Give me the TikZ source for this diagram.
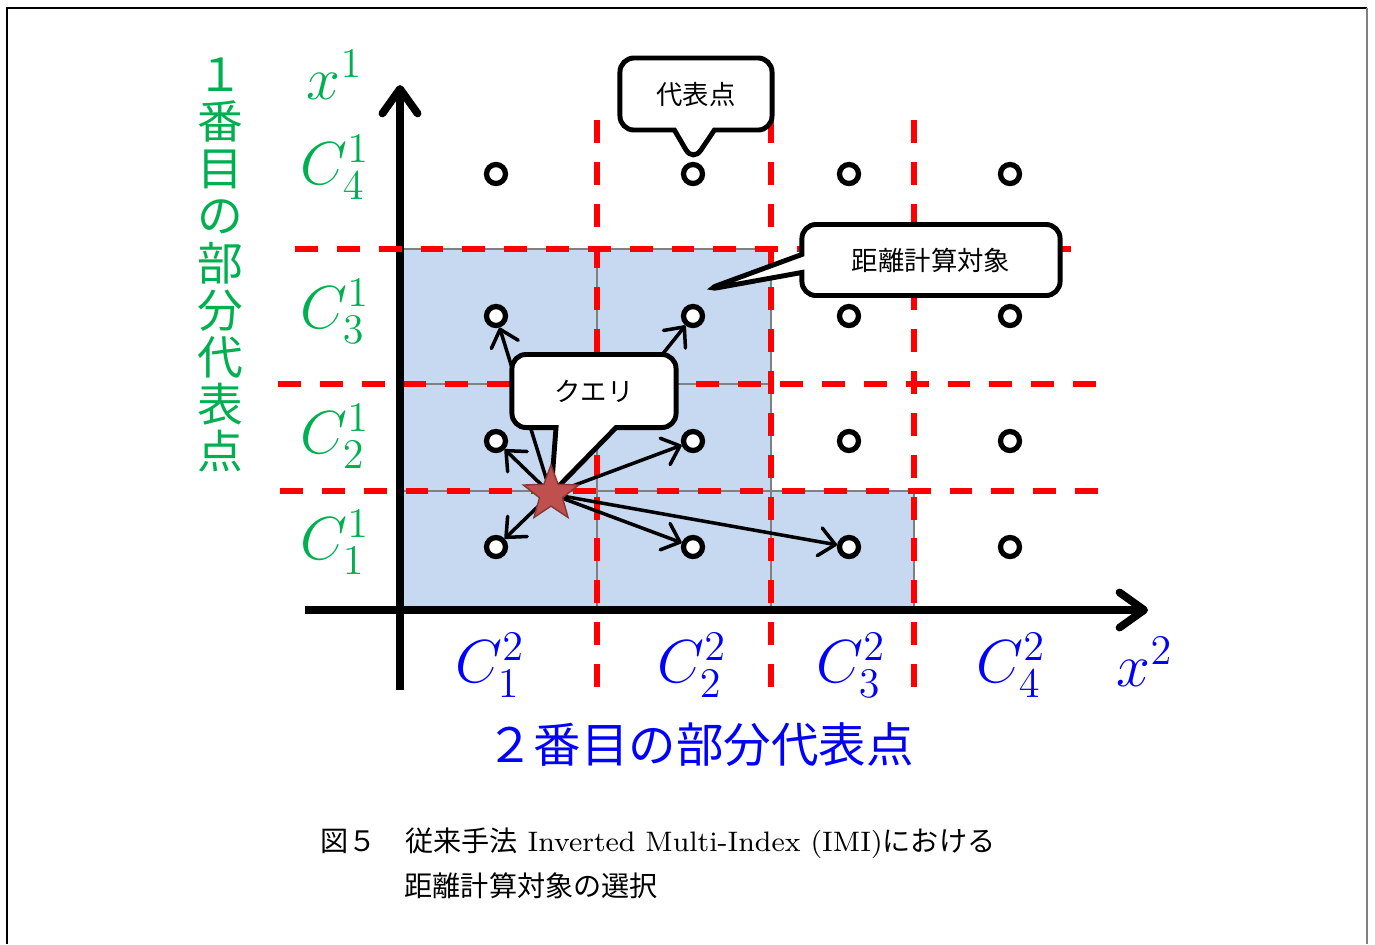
\documentclass[tikz,border=0pt]{standalone}
\usepackage{fontspec}
\newfontfamily\cjk{Noto Sans CJK JP}
\usepackage{xcolor}
\usetikzlibrary{shapes.geometric, shapes.callouts, arrows.meta}
\definecolor{cellblue}{HTML}{C6D9F1}
\definecolor{axgreen}{HTML}{00B050}
\definecolor{axblue}{HTML}{0000FF}
\definecolor{starred}{HTML}{C0504D}

\begin{document}
\begin{tikzpicture}[
    x=0.01cm, y=-0.01cm,
    cell/.style   = {fill=cellblue, draw=gray, line width=0.4pt},
    cut/.style    = {red, line width=1.7pt, dash pattern=on 6.5pt off 5.4pt},
    axis/.style   = {line width=2.2pt, -{Straight Barb[length=7pt,width=10pt,round]}},
    pt/.style     = {circle, draw, fill=white, line width=1.5pt,
                     minimum size=0.19cm, inner sep=0pt},
    ptr/.style    = {line width=1pt, -{Straight Barb[length=4.5pt,width=8pt,round]}},
    bubble/.style = {rectangle callout, draw, fill=white, line width=1.4pt,
                     rounded corners=4pt, font=\cjk\fontsize{7.5}{9}\selectfont},
    lab1/.style   = {text=axgreen, font=\fontsize{17}{20}\selectfont},
    lab2/.style   = {text=axblue, font=\fontsize{17}{20}\selectfont},
  ]
  \useasboundingbox (0,0) rectangle (1375,944);
  \draw[line width=0.6pt] (7,944) -- (7,8) -- (1367,8);
  \draw[gray, line width=0.6pt] (1367,8) -- (1367,944);

  % cells to compare
  \foreach \xa/\xb in {400/597, 597/771}
    \foreach \ya/\yb in {491/610, 384/491, 249/384}
      \draw[cell] (\xa,\ya) rectangle (\xb,\yb);
  \draw[cell] (771,491) rectangle (914,610);

  % axes
  \draw[axis] (400,690) -- (400,85);
  \draw[axis] (305,610) -- (1148,610);

  % cell boundaries
  \foreach \y/\xs/\xe in {249/295/1075, 384/278/1100, 491/280/1100}
    \draw[cut] (\xs,\y) -- (\xe,\y);
  \foreach \x in {597,771,914}
    \draw[cut] (\x,120) -- (\x,690);

  % representative points
  \foreach \i/\x in {1/496,2/693,3/849,4/1010}
    \foreach \j/\y in {1/547,2/441,3/316,4/174}
      \node[pt] (p\i\j) at (\x,\y) {};

  \coordinate (q) at (551,494);
  \foreach \t in {p11,p21,p31,p12,p22,p13,p23}
    \draw[ptr] (q) -- (\t);

  \coordinate (dtip) at (705,290);
  \node[bubble, minimum width=1.52cm, minimum height=0.72cm,
        callout absolute pointer={(p24.north)}, callout pointer width=0.4cm]
        (rep) at (696,94) {代表点};
  \node[bubble, minimum width=2.58cm, minimum height=0.71cm,
        callout absolute pointer={(dtip)}, callout pointer width=0.18cm]
        (dist) at (931,260) {距離計算対象};
  \node[bubble, minimum width=1.64cm, minimum height=0.73cm,
        callout absolute pointer={(q)}, callout pointer width=0.6cm]
        (query) at (594,391) {クエリ};

  \node[star, star points=5, star point ratio=2.4, minimum size=0.58cm,
        inner sep=0pt, fill=starred, draw=starred!70!black, line width=0.4pt]
        (qstar) at (q) {};

  % axis labels
  \node[lab1] (x1) at (335,75) {$x^1$};
  \foreach \j/\y in {1/542,2/436,3/311,4/167}
    \node[lab1] (c1\j) at (335,\y) {$C^1_\j$};
  \foreach \i/\x in {1/490,2/692,3/851,4/1011}
    \node[lab2] (c2\i) at (\x,665) {$C^2_\i$};
  \node[lab2] (x2) at (1145,662) {$x^2$};

  \node[text=axgreen, font=\cjk\fontsize{13}{13.4}\selectfont, align=center,
        inner sep=0pt] (sub1) at (220,265)
        {１\\番\\目\\の\\部\\分\\代\\表\\点};
  \node[text=axblue, font=\cjk\fontsize{13.5}{15}\selectfont]
        (sub2) at (700,745) {２番目の部分代表点};

  % caption
  \node[anchor=west, inner sep=0pt, font=\fontsize{8}{10}\selectfont] (cap1)
        at (320,843) {{\cjk 図５　従来手法} Inverted Multi-Index (IMI){\cjk における}};
  \node[anchor=west, inner sep=0pt, font=\cjk\fontsize{8}{10}\selectfont] (cap2)
        at (404,886) {距離計算対象の選択};
\end{tikzpicture}
\end{document}
